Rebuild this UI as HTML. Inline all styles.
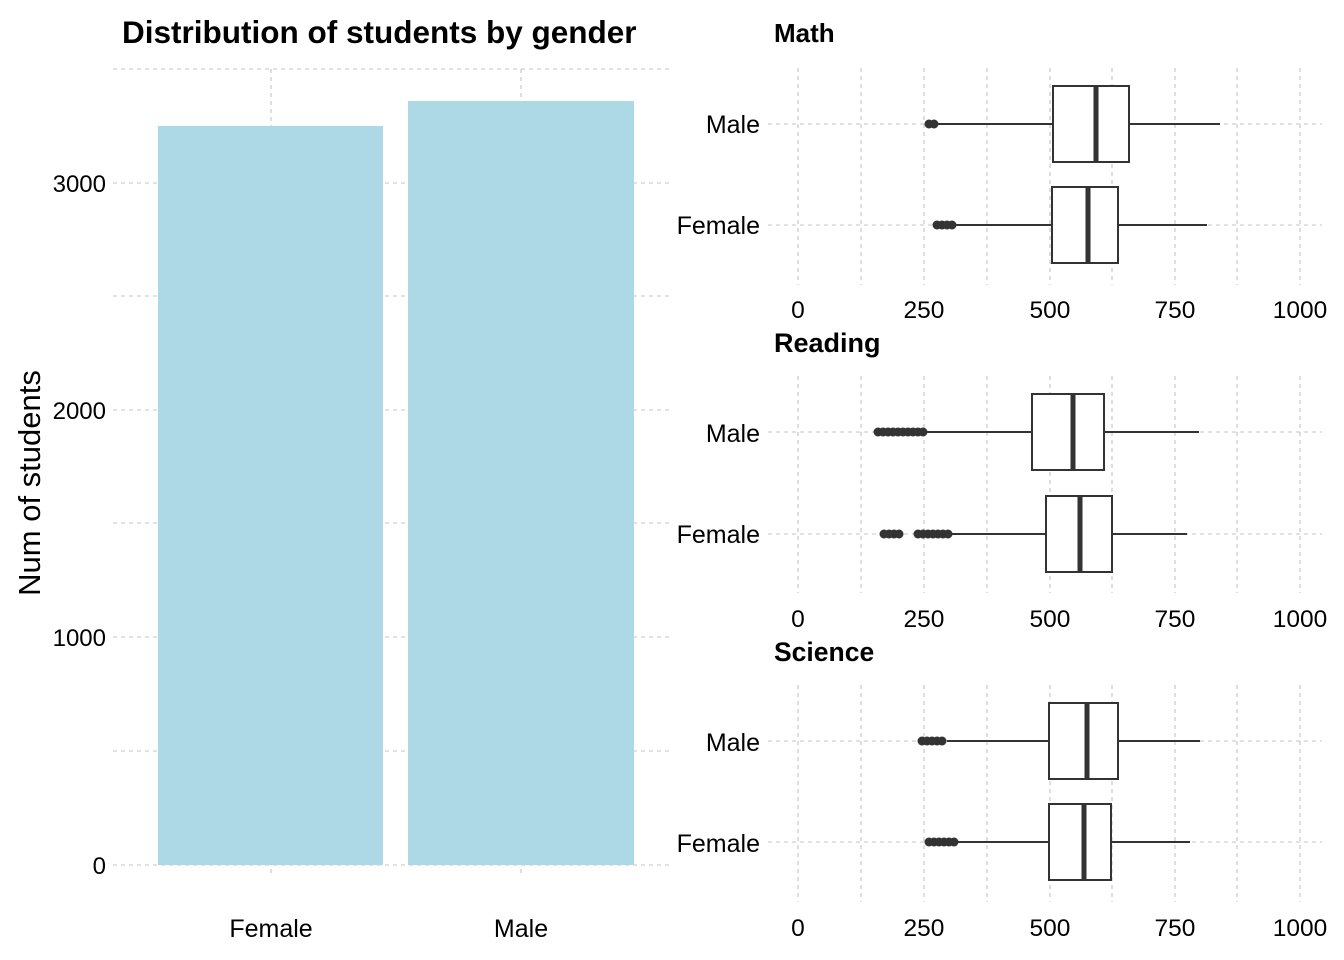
<!DOCTYPE html>
<html><head><meta charset="utf-8"><style>
html,body{margin:0;padding:0;background:#fff}
svg{display:block}
text{font-family:"Liberation Sans",Arial,sans-serif}
</style></head><body>
<svg id="s" width="1344" height="960" viewBox="0 0 1344 960" xmlns="http://www.w3.org/2000/svg">
<g id="grid"></g>
<rect x="158" y="126" width="225" height="739" fill="#add8e6"/>
<rect x="408" y="101" width="226" height="764" fill="#add8e6"/>
<g id="boxes"></g>
<g font-size="24" fill="#000">
<text x="122" y="43" font-size="31.5" font-weight="bold">Distribution of students by gender</text>
<text x="106" y="192" text-anchor="end">3000</text>
<text x="106" y="419" text-anchor="end">2000</text>
<text x="106" y="646" text-anchor="end">1000</text>
<text x="106" y="874" text-anchor="end">0</text>
<text x="271" y="937" text-anchor="middle" font-size="25">Female</text>
<text x="521" y="937" text-anchor="middle" font-size="25">Male</text>
<text transform="translate(40,483) rotate(-90)" text-anchor="middle" font-size="31">Num of students</text>

<text x="774" y="42" font-weight="bold" font-size="26">Math</text>
<text x="760" y="133" text-anchor="end" font-size="25">Male</text>
<text x="760" y="234" text-anchor="end" font-size="25">Female</text>
<text x="798" y="318" text-anchor="middle" font-size="24.5">0</text>
<text x="924" y="318" text-anchor="middle" font-size="24.5">250</text>
<text x="1050" y="318" text-anchor="middle" font-size="24.5">500</text>
<text x="1175" y="318" text-anchor="middle" font-size="24.5">750</text>
<text x="1300" y="318" text-anchor="middle" font-size="24.5">1000</text>

<text x="774" y="352" font-weight="bold" font-size="27">Reading</text>
<text x="760" y="442" text-anchor="end" font-size="25">Male</text>
<text x="760" y="543" text-anchor="end" font-size="25">Female</text>
<text x="798" y="627" text-anchor="middle" font-size="24.5">0</text>
<text x="924" y="627" text-anchor="middle" font-size="24.5">250</text>
<text x="1050" y="627" text-anchor="middle" font-size="24.5">500</text>
<text x="1175" y="627" text-anchor="middle" font-size="24.5">750</text>
<text x="1300" y="627" text-anchor="middle" font-size="24.5">1000</text>

<text x="774" y="661" font-weight="bold" font-size="26.5">Science</text>
<text x="760" y="751" text-anchor="end" font-size="25">Male</text>
<text x="760" y="852" text-anchor="end" font-size="25">Female</text>
<text x="798" y="936" text-anchor="middle" font-size="24.5">0</text>
<text x="924" y="936" text-anchor="middle" font-size="24.5">250</text>
<text x="1050" y="936" text-anchor="middle" font-size="24.5">500</text>
<text x="1175" y="936" text-anchor="middle" font-size="24.5">750</text>
<text x="1300" y="936" text-anchor="middle" font-size="24.5">1000</text>
</g>
</svg>
<script>
var NS="http://www.w3.org/2000/svg";
function el(p,t,a){var e=document.createElementNS(NS,t);for(var k in a)e.setAttribute(k,a[k]);p.appendChild(e);return e;}
var g=document.getElementById("grid"),b=document.getElementById("boxes");
var gs={stroke:"#c4c4c4","stroke-width":1.1,"stroke-dasharray":"4,4",fill:"none"};
function ln(x1,y1,x2,y2){var a=Object.assign({x1:x1,y1:y1,x2:x2,y2:y2},gs);el(g,"line",a);}
[69,183,296,410,523,637,751,865].forEach(function(y){ln(113,y,670,y);});
[271,521].forEach(function(x){ln(x,69,x,875);});
var panels=[[68,285,124,225],[376,593,432,534],[685,902,741,842]];
panels.forEach(function(p){
 [798,861,924,987,1050,1112,1175,1237,1300].forEach(function(x){ln(x,p[0],x,p[1]);});
 [p[2],p[3]].forEach(function(y){ln(768,y,1322,y);});
});
var C="#333";
function box(y,wl,q1,med,q3,wh,outs){
 el(b,"line",{x1:wl,y1:y,x2:q1,y2:y,stroke:C,"stroke-width":2});
 el(b,"line",{x1:q3,y1:y,x2:wh,y2:y,stroke:C,"stroke-width":2});
 el(b,"rect",{x:q1,y:y-38,width:q3-q1,height:76,fill:"#fff",stroke:C,"stroke-width":2});
 el(b,"line",{x1:med,y1:y-38,x2:med,y2:y+38,stroke:C,"stroke-width":5});
 outs.forEach(function(r){for(var x=r[0];x<=r[1];x+=5)el(b,"circle",{cx:x,cy:y,r:4.5,fill:C});});
}
box(124,938,1053,1096,1129,1220,[[929,937]]);
box(225,955,1052,1088,1118,1207,[[937,955]]);
box(432,927,1032,1073,1104,1199,[[878,925]]);
box(534,950,1046,1080,1112,1187,[[884,900],[918,948]]);
box(741,947,1049,1087,1118,1200,[[922,946]]);
box(842,958,1049,1084,1111,1190,[[929,957]]);
</script>
</body></html>
